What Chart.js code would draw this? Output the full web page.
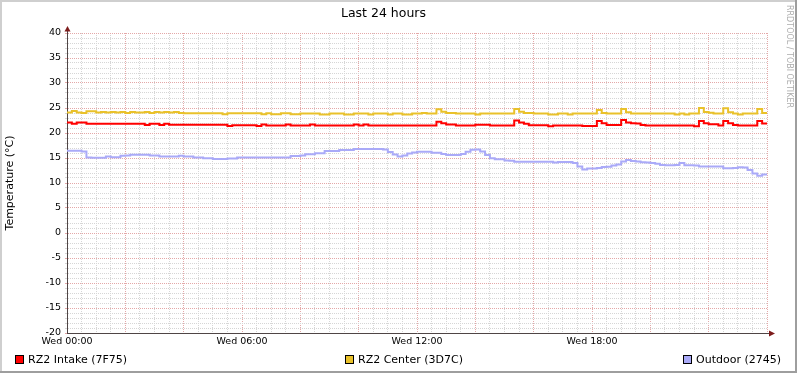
<!DOCTYPE html>
<html>
<head>
<meta charset="utf-8">
<script src="https://cdn.jsdelivr.net/npm/chart.js@4/dist/chart.umd.min.js"></script>
<style>
  html, body { margin: 0; padding: 0; background: #fff; }
  canvas { display: block; }
</style>
</head>
<body>
<canvas id="chart" width="797" height="373"></canvas>
<script>
// last 24 hours, one sample every 10 minutes (145 samples, 00:00 .. 24:00)
const seriesNames = ["RZ2 Intake (7F75)", "RZ2 Center (3D7C)", "Outdoor (2745)"];
const seriesColors = ["#ff0000", "#e9c12a", "#aaaaf8"];
const tickLabels = ["Wed 00:00", "Wed 06:00", "Wed 12:00", "Wed 18:00"];
const stepMinutes = 10;

const intake = [
  22.1, 22.1, 21.85, 22.1, 22.1, 21.85, 21.85, 21.85, 21.85, 21.85, 21.85, 21.85,
  21.85, 21.85, 21.85, 21.85, 21.85, 21.6, 21.85, 21.85, 21.6, 21.85, 21.65, 21.65,
  21.65, 21.65, 21.65, 21.65, 21.65, 21.65, 21.65, 21.65, 21.65, 21.65, 21.4, 21.55,
  21.55, 21.55, 21.55, 21.55, 21.4, 21.7, 21.5, 21.5, 21.5, 21.5, 21.7, 21.5,
  21.5, 21.5, 21.5, 21.7, 21.5, 21.5, 21.5, 21.5, 21.5, 21.5, 21.5, 21.5,
  21.7, 21.5, 21.7, 21.5, 21.5, 21.5, 21.5, 21.5, 21.5, 21.5, 21.5, 21.5,
  21.5, 21.5, 21.5, 21.5, 21.5, 22.25, 21.95, 21.7, 21.7, 21.5, 21.5, 21.5,
  21.5, 21.65, 21.65, 21.65, 21.5, 21.5, 21.5, 21.5, 21.5, 22.5, 22.1, 21.85,
  21.55, 21.55, 21.55, 21.55, 21.35, 21.5, 21.5, 21.5, 21.5, 21.5, 21.5, 21.4,
  21.4, 21.4, 22.4, 21.95, 21.6, 21.6, 21.6, 22.6, 22.1, 21.95, 21.9, 21.6,
  21.5, 21.5, 21.5, 21.5, 21.5, 21.5, 21.5, 21.5, 21.5, 21.5, 21.35, 22.4,
  21.95, 21.75, 21.75, 21.5, 22.4, 21.95, 21.6, 21.5, 21.5, 21.5, 21.5, 22.4,
  21.9
];

const center = [
  24.1, 24.1, 24.4, 24.1, 24.0, 24.35, 24.35, 24.1, 24.2, 24.1, 24.2, 24.1,
  24.2, 24.0, 24.2, 24.1, 24.1, 24.2, 24.0, 24.2, 24.1, 24.2, 24.1, 24.2,
  24.0, 23.95, 23.95, 23.95, 23.95, 23.95, 23.95, 23.95, 23.95, 23.75, 23.95, 23.95,
  23.95, 23.95, 23.95, 23.95, 23.95, 23.75, 23.95, 23.75, 23.75, 23.95, 23.95, 23.75,
  23.75, 23.9, 23.9, 23.9, 23.9, 23.7, 23.7, 23.9, 23.9, 23.9, 23.7, 23.7,
  23.9, 23.9, 23.9, 23.7, 23.9, 23.9, 23.9, 23.7, 23.9, 23.9, 23.7, 23.7,
  23.9, 23.9, 24.0, 23.9, 23.9, 24.75, 24.25, 24.0, 24.0, 23.9, 23.9, 23.9,
  23.9, 23.7, 23.9, 23.9, 23.9, 23.9, 23.9, 23.9, 23.9, 24.8, 24.25, 24.0,
  24.0, 23.9, 23.9, 23.9, 23.7, 23.7, 23.9, 23.9, 23.7, 23.9, 23.9, 23.9,
  23.9, 23.9, 24.6, 24.0, 23.9, 23.9, 23.9, 24.8, 24.15, 23.9, 23.9, 23.9,
  23.9, 23.9, 23.9, 23.9, 23.9, 23.9, 23.7, 23.9, 23.7, 23.9, 23.9, 25.0,
  24.2, 24.05, 23.9, 23.9, 24.95, 24.15, 23.9, 23.7, 23.9, 23.9, 23.9, 24.8,
  24.0
];

const outdoor = [
  16.45, 16.45, 16.45, 16.45, 16.3, 15.1, 15.05, 15.05, 15.05, 15.3, 15.15, 15.15,
  15.45, 15.5, 15.65, 15.65, 15.65, 15.65, 15.5, 15.5, 15.3, 15.3, 15.3, 15.3,
  15.45, 15.3, 15.3, 15.1, 15.1, 14.95, 14.95, 14.8, 14.8, 14.8, 14.9, 14.9,
  15.1, 15.1, 15.1, 15.1, 15.1, 15.1, 15.1, 15.1, 15.1, 15.1, 15.1, 15.4,
  15.4, 15.5, 15.75, 15.75, 15.95, 15.95, 16.4, 16.4, 16.4, 16.6, 16.6, 16.6,
  16.8, 16.8, 16.8, 16.8, 16.8, 16.8, 16.7, 16.2, 15.7, 15.3, 15.5, 15.9,
  16.1, 16.25, 16.25, 16.25, 16.05, 16.05, 15.8, 15.6, 15.6, 15.6, 15.8, 16.25,
  16.65, 16.7, 16.3, 15.6, 14.95, 14.75, 14.75, 14.5, 14.45, 14.25, 14.25, 14.25,
  14.25, 14.25, 14.25, 14.25, 14.25, 14.1, 14.2, 14.2, 14.2, 14.0, 13.3, 12.7,
  12.9, 12.9, 13.0, 13.2, 13.25, 13.5, 13.7, 14.3, 14.6, 14.4, 14.3, 14.15,
  14.1, 14.0, 13.85, 13.6, 13.55, 13.55, 13.6, 14.0, 13.55, 13.55, 13.5, 13.3,
  13.3, 13.3, 13.3, 13.3, 12.95, 12.95, 13.0, 13.15, 13.1, 12.6, 11.9, 11.45,
  11.7
];

const majorGrid = "#e4a8a8";
const minorGrid = "#d6d6d6";
const axisColor = "#4f4545";
const arrowColor = "#7d1c1c";

Chart.defaults.font.family = "'DejaVu Sans', sans-serif";
Chart.defaults.color = "#000";

function toPoints(values) {
  return values.map((v, i) => ({ x: i * stepMinutes, y: v }));
}

// white background, 3d frame, axis arrows, legend and watermark
const rrdDecor = {
  id: "rrdDecor",
  beforeDraw(chart) {
    const ctx = chart.ctx;
    ctx.save();
    ctx.fillStyle = "#fff";
    ctx.fillRect(0, 0, chart.width, chart.height);
    ctx.restore();
  },
  afterDraw(chart) {
    const ctx = chart.ctx;
    const area = chart.chartArea;
    const w = chart.width;
    const h = chart.height;
    ctx.save();

    // axis extensions and arrows
    ctx.strokeStyle = axisColor;
    ctx.lineWidth = 1;
    ctx.beginPath();
    ctx.moveTo(area.left + 0.5, area.top);
    ctx.lineTo(area.left + 0.5, area.top - 3);
    ctx.moveTo(area.right, area.bottom + 0.5);
    ctx.lineTo(area.right + 3, area.bottom + 0.5);
    ctx.stroke();
    ctx.fillStyle = arrowColor;
    ctx.beginPath();
    ctx.moveTo(area.left + 0.5, area.top - 7);
    ctx.lineTo(area.left - 2.5, area.top - 1.5);
    ctx.lineTo(area.left + 3.5, area.top - 1.5);
    ctx.closePath();
    ctx.fill();
    ctx.beginPath();
    ctx.moveTo(area.right + 8, area.bottom + 0.5);
    ctx.lineTo(area.right + 2, area.bottom - 2.5);
    ctx.lineTo(area.right + 2, area.bottom + 3.5);
    ctx.closePath();
    ctx.fill();

    // legend
    const legendX = [15, 345, 683];
    ctx.font = "11px 'DejaVu Sans'";
    ctx.textBaseline = "middle";
    ctx.textAlign = "left";
    chart.data.datasets.forEach((ds, i) => {
      const x = legendX[i];
      ctx.fillStyle = ds.borderColor;
      ctx.fillRect(x, 355, 9, 9);
      ctx.strokeStyle = "#000";
      ctx.strokeRect(x + 0.5, 355.5, 8, 8);
      ctx.fillStyle = "#000";
      ctx.fillText(ds.label, x + 13, 360);
    });

    // watermark
    ctx.save();
    ctx.translate(789, 5);
    ctx.rotate(Math.PI / 2);
    ctx.font = "8px 'DejaVu Sans'";
    ctx.fillStyle = "#adadad";
    ctx.textBaseline = "middle";
    ctx.fillText("RRDTOOL / TOBI OETIKER", 0, 0);
    ctx.restore();

    // frame
    ctx.fillStyle = "#cfcfcf";
    ctx.fillRect(0, 0, w, 2);
    ctx.fillRect(0, 0, 2, h);
    ctx.fillStyle = "#9e9e9e";
    ctx.fillRect(w - 2, 0, 2, h);
    ctx.fillRect(0, h - 2, w, 2);
    ctx.restore();
  }
};

new Chart(document.getElementById("chart"), {
  type: "line",
  data: {
    datasets: [
      { label: seriesNames[0], data: toPoints(intake), borderColor: seriesColors[0] },
      { label: seriesNames[1], data: toPoints(center), borderColor: seriesColors[1] },
      { label: seriesNames[2], data: toPoints(outdoor), borderColor: seriesColors[2] },
    ],
  },
  options: {
    responsive: false,
    animation: false,
    events: [],
    layout: { padding: { left: 0, right: 30, top: 0, bottom: 0 } },
    elements: {
      line: { borderWidth: 2, stepped: "after", tension: 0, fill: false },
      point: { radius: 0 },
    },
    plugins: {
      legend: { display: false },
      tooltip: { enabled: false },
      title: {
        display: true,
        text: "Last 24 hours",
        font: { size: 12.5, weight: "normal" },
        color: "#000",
        padding: { top: 6, bottom: 12 },
      },
    },
    scales: {
      x: {
        type: "linear",
        min: 0,
        max: 1440,
        afterFit(scale) { scale.height = 40; },
        ticks: {
          stepSize: 30,
          autoSkip: false,
          maxRotation: 0,
          padding: 3,
          font: { size: 9.5 },
          color: "#000",
          callback: (value) => (value % 360 === 0 && value < 1440 ? tickLabels[value / 360] : ""),
        },
        grid: {
          drawTicks: false,
          color: (ctx) => (ctx.tick && ctx.tick.value % 120 === 0 ? majorGrid : minorGrid),
        },
        border: { color: axisColor, width: 1, dash: [1, 1] },
      },
      y: {
        min: -20,
        max: 40,
        afterFit(scale) { scale.width = 67; },
        ticks: {
          stepSize: 1,
          autoSkip: false,
          padding: 4,
          font: { size: 9.5 },
          color: "#000",
          callback: (value) => (value % 5 === 0 ? String(value) : ""),
        },
        grid: {
          tickLength: 2,
          color: (ctx) => (ctx.tick && ctx.tick.value % 5 === 0 ? majorGrid : minorGrid),
        },
        border: { color: axisColor, width: 1, dash: [1, 1] },
        title: {
          display: true,
          text: "Temperature (°C)",
          font: { size: 11 },
          color: "#000",
          padding: { top: 4, bottom: 0 },
        },
      },
    },
  },
  plugins: [rrdDecor],
});
</script>
</body>
</html>
